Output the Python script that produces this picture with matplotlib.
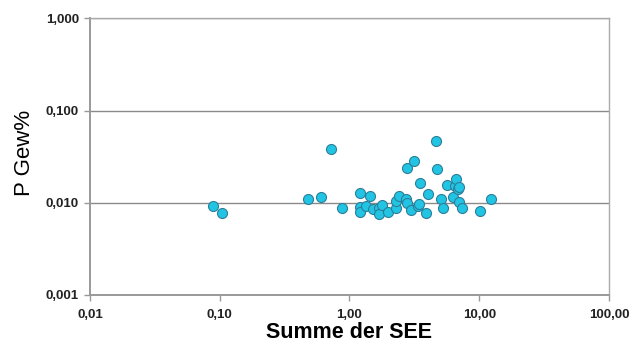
import matplotlib
matplotlib.use("Agg")
import matplotlib.pyplot as plt
from matplotlib.ticker import FixedLocator, NullLocator

# Summe der SEE vs. P Gew%
see_sum = [0.089, 0.104, 0.72, 0.48, 0.60, 0.88, 1.20, 1.21, 1.21, 1.33,
           1.45, 1.51, 1.70, 1.70, 1.79, 1.98, 2.27, 2.28, 2.42, 2.72,
           2.76, 3.16, 2.79, 2.96, 3.37, 3.45, 3.51, 3.87, 4.05, 4.64,
           4.70, 5.07, 5.26, 5.61, 6.24, 6.50, 6.62, 6.82, 6.98, 7.33,
           10.1, 12.4, 7.03]
p_gew = [0.0093, 0.0077, 0.0385, 0.0110, 0.0115, 0.0088, 0.0129, 0.0091, 0.0080, 0.0093,
         0.0117, 0.0085, 0.0088, 0.0075, 0.0094, 0.0080, 0.0088, 0.0105, 0.0118, 0.0111,
         0.0239, 0.0283, 0.0099, 0.0083, 0.0093, 0.0097, 0.0163, 0.0077, 0.0124, 0.0470,
         0.0230, 0.0110, 0.0088, 0.0156, 0.0116, 0.0153, 0.0183, 0.0141, 0.0103, 0.0087,
         0.0082, 0.0109, 0.0147]

x_ticks = [0.01, 0.1, 1, 10, 100]
x_labels = ["0,01", "0,10", "1,00", "10,00", "100,00"]
y_ticks = [0.001, 0.01, 0.1, 1]
y_labels = ["0,001", "0,010", "0,100", "1,000"]

plt.rcParams["font.family"] = ["Liberation Sans", "DejaVu Sans"]

fig = plt.figure(figsize=(6.32, 3.47), dpi=100)
ax = fig.add_axes([0.1424, 0.150, 0.8212, 0.797])

ax.scatter(see_sum, p_gew, s=52, color="#22c4e4", edgecolor="#2c7f98",
           linewidth=0.8, zorder=3)

ax.set_xscale("log")
ax.set_yscale("log")
ax.set_xlim(0.01, 100)
ax.set_ylim(0.001, 1)

ax.xaxis.set_major_locator(FixedLocator(x_ticks))
ax.xaxis.set_minor_locator(NullLocator())
ax.yaxis.set_major_locator(FixedLocator(y_ticks))
ax.yaxis.set_minor_locator(NullLocator())
ax.set_xticklabels(x_labels, fontsize=9.5, fontweight="bold", color="#222222")
ax.set_yticklabels(y_labels, fontsize=9.5, fontweight="bold", color="#222222")

ax.grid(axis="y", color="#8a8a8a", linewidth=1.0, zorder=1)

for side in ["left", "bottom"]:
    ax.spines[side].set_color("#999999")
    ax.spines[side].set_linewidth(1.4)
for side in ["top", "right"]:
    ax.spines[side].set_color("#aaaaaa")
    ax.spines[side].set_linewidth(1.0)

ax.tick_params(axis="both", direction="out", length=4, width=1, color="#999999")
ax.tick_params(axis="x", pad=6)
ax.tick_params(axis="y", pad=4)

ax.set_xlabel("Summe der SEE", fontsize=15.5, fontweight="bold", va="center")
ax.xaxis.set_label_coords(0.499, -0.137)
ax.set_ylabel("P Gew%", fontsize=16, va="center")
ax.yaxis.set_label_coords(-0.127, 0.513)

fig.savefig("out.png", dpi=100)
